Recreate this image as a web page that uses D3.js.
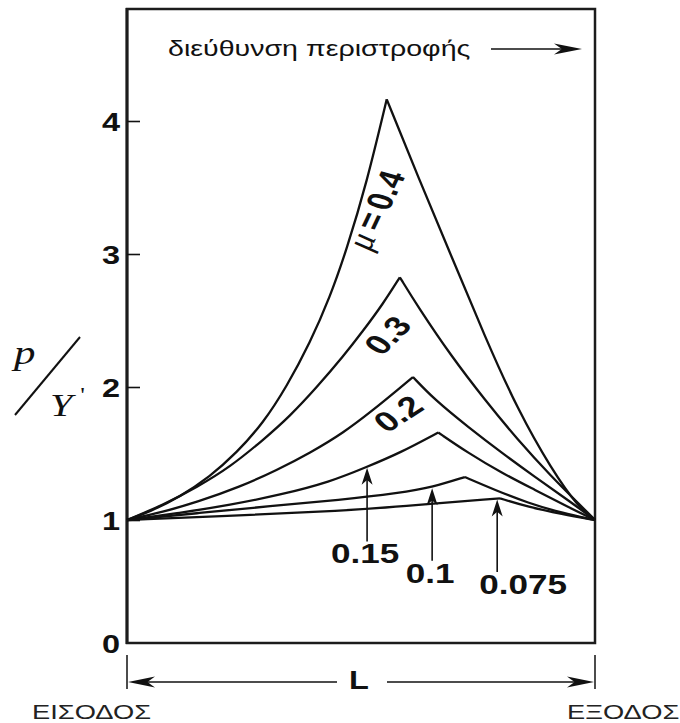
<!DOCTYPE html>
<html>
<head>
<meta charset="utf-8">
<script src="https://cdn.jsdelivr.net/npm/d3@7"></script>
<style>
  body { margin: 0; background: #fff; }
  svg { display: block; }
</style>
</head>
<body>
<svg id="chart" width="680" height="723"></svg>
<script>
// Friction hill: normalised roll pressure p/Y' along the arc of contact (x / L)
// for several friction coefficients μ. Each series: [x/L, p/Y'].
const frictionLabels = ["0.4", "0.3", "0.2", "0.15", "0.1", "0.075"];

const pressureMu040 = [[0, 1], [0.049, 1.062], [0.113, 1.175], [0.177, 1.326], [0.234, 1.504],
  [0.291, 1.729], [0.341, 2.002], [0.391, 2.331], [0.434, 2.679], [0.469, 3.030],
  [0.512, 3.532], [0.555, 4.163],
  [0.622, 3.579], [0.694, 2.977], [0.765, 2.376], [0.835, 1.827], [0.908, 1.376],
  [0.964, 1.098], [1, 1]];
const pressureMu030 = [[0, 1], [0.077, 1.113], [0.150, 1.248], [0.220, 1.398], [0.291, 1.602],
  [0.348, 1.780], [0.406, 2.000], [0.462, 2.230], [0.504, 2.420], [0.547, 2.625], [0.583, 2.825],
  [0.622, 2.602], [0.694, 2.226], [0.765, 1.902], [0.835, 1.602], [0.908, 1.323],
  [0.964, 1.128], [1, 1]];
const pressureMu020 = [[0, 1], [0.077, 1.060], [0.150, 1.135], [0.241, 1.248], [0.321, 1.376],
  [0.391, 1.504], [0.462, 1.654], [0.526, 1.827], [0.583, 1.992], [0.611, 2.075],
  [0.658, 1.902], [0.729, 1.699], [0.801, 1.504], [0.872, 1.323], [0.942, 1.150], [1, 1]];
const pressureMu015 = [[0, 1], [0.113, 1.053], [0.220, 1.113], [0.327, 1.188], [0.434, 1.286],
  [0.513, 1.400], [0.583, 1.504], [0.665, 1.658],
  [0.729, 1.504], [0.801, 1.353], [0.872, 1.226], [0.942, 1.098], [1, 1]];
const pressureMu010 = [[0, 1], [0.156, 1.053], [0.306, 1.105], [0.455, 1.150], [0.583, 1.203],
  [0.654, 1.248], [0.722, 1.323],
  [0.786, 1.226], [0.857, 1.128], [0.929, 1.053], [1, 1]];
const pressureMu0075 = [[0, 1], [0.263, 1.038], [0.455, 1.068], [0.583, 1.102], [0.797, 1.163],
  [0.857, 1.098], [0.929, 1.045], [1, 1]];

const seriesList = [pressureMu040, pressureMu030, pressureMu020, pressureMu015, pressureMu010, pressureMu0075];

// y-axis ticks
const yTickValues = [0, 1, 2, 3, 4];

// labels written along the curves (position in x/L and p/Y', angle in degrees)
const inlineLabels = [
  { mu: "0.4", x: 0.531, v: 3.33, angle: -70, prefix: true },
  { mu: "0.3", x: 0.556, v: 2.39, angle: -52 },
  { mu: "0.2", x: 0.579, v: 1.80, angle: -40 }
];
// labels pointing at curves with arrows: x/L of the arrow, label baseline level (p/Y')
const arrowLabels = [
  { mu: "0.15", x: 0.513, level: 0.647, dx: -2 },
  { mu: "0.1", x: 0.652, level: 0.489, dx: -2 },
  { mu: "0.075", x: 0.791, level: 0.398, dx: 26 }
];

const titleText = "διεύθυνση περιστροφής";
const entryText = "ΕΙΣΟΔΟΣ";
const exitText = "ΕΞΟΔΟΣ";
const lengthText = "L";

// ---------------------------------------------------------------------------
const svg = d3.select("#chart");
const ink = "#111";
const sans = "'Liberation Sans', Arial, sans-serif";
const serif = "'Liberation Serif', 'Times New Roman', serif";
const stretch = 1.3;

const plot = { left: 127, right: 595, top: 9, bottom: 643 };
const x = d3.scaleLinear().domain([0, 1]).range([plot.left, plot.right]);
const y = d3.scaleLinear().domain([0, 1, 4]).range([plot.bottom, 520, 121]);

function placeText(sel, px, py, angle) {
  sel.attr("transform", `translate(${px},${py}) scale(${stretch},1)` + (angle ? ` rotate(${angle})` : ""));
  return sel;
}

function arrowHead(g, tx, ty, dir, len, half) {
  // notched arrowhead, tip at (tx,ty), pointing along dir (degrees)
  g.append("path")
    .attr("d", `M0,0 L${-len},${-half} L${-len * 0.72},0 L${-len},${half} Z`)
    .attr("transform", `translate(${tx},${ty}) rotate(${dir})`)
    .attr("fill", ink);
}

// frame
svg.append("rect")
  .attr("x", plot.left).attr("y", plot.top)
  .attr("width", plot.right - plot.left).attr("height", plot.bottom - plot.top)
  .attr("fill", "none").attr("stroke", "#1c1c1c").attr("stroke-width", 2.5);
svg.append("line")
  .attr("x1", plot.left).attr("x2", plot.left)
  .attr("y1", plot.top - 1).attr("y2", plot.bottom + 1)
  .attr("stroke", "#1c1c1c").attr("stroke-width", 3);

// y axis with inward ticks
const yAxis = d3.axisLeft(y)
  .tickValues(yTickValues)
  .tickSizeInner(-13).tickSizeOuter(0).tickPadding(7)
  .tickFormat(d3.format("d"));
const gy = svg.append("g").attr("transform", `translate(${plot.left},0)`).call(yAxis);
gy.select(".domain").remove();
gy.selectAll(".tick line").attr("stroke", ink).attr("stroke-width", 1.6)
  .filter(d => d === 0).remove();
gy.selectAll(".tick text")
  .attr("x", null).attr("dy", null)
  .attr("transform", `translate(-7,9) scale(${stretch},1)`)
  .attr("font-size", 25).attr("font-weight", "bold")
  .attr("font-family", sans).attr("fill", ink);

// curves: rising and falling branches drawn separately so the peak stays sharp
const line = d3.line().x(d => x(d[0])).y(d => y(d[1])).curve(d3.curveBasis);
const gc = svg.append("g").attr("fill", "none").attr("stroke", ink).attr("stroke-width", 2.3)
  .attr("stroke-linejoin", "miter");
seriesList.forEach(data => {
  const peak = d3.maxIndex(data, d => d[1]);
  gc.append("path").attr("d", line(data.slice(0, peak + 1)));
  gc.append("path").attr("d", line(data.slice(peak)));
});

// labels along curves
inlineLabels.forEach(l => {
  const t = svg.append("text")
    .attr("text-anchor", "middle").attr("dy", "0.36em")
    .attr("font-size", 28).attr("font-weight", "bold")
    .attr("font-family", sans).attr("fill", ink);
  if (l.prefix) {
    t.append("tspan").attr("font-family", serif).attr("font-style", "italic")
      .attr("font-weight", "normal").attr("font-size", 30).text("μ");
    t.append("tspan").attr("dx", 6).text("=");
    t.append("tspan").attr("dx", 5).text(l.mu);
  } else {
    t.text(l.mu);
  }
  placeText(t, x(l.x), y(l.v), l.angle);
});

// arrow labels
function valueAt(data, xv) {
  for (let i = 1; i < data.length; i++) {
    if (xv <= data[i][0]) {
      const a = data[i - 1], b = data[i];
      return a[1] + (b[1] - a[1]) * (xv - a[0]) / (b[0] - a[0]);
    }
  }
  return data[data.length - 1][1];
}
const ga = svg.append("g");
arrowLabels.forEach(l => {
  const data = seriesList[frictionLabels.indexOf(l.mu)];
  const px = x(l.x);
  const tipY = y(valueAt(data, l.x));
  const baseY = y(l.level);
  ga.append("line")
    .attr("x1", px).attr("x2", px)
    .attr("y1", baseY - 22).attr("y2", tipY + 8)
    .attr("stroke", ink).attr("stroke-width", 1.6);
  arrowHead(ga, px, tipY + 1, -90, 17, 5.5);
  placeText(ga.append("text")
    .attr("text-anchor", "middle")
    .attr("font-size", 27).attr("font-weight", "bold")
    .attr("font-family", sans).attr("fill", ink)
    .text(l.mu), px + l.dx, baseY);
});

// direction of rotation
placeText(svg.append("text")
  .attr("font-size", 22).attr("font-family", sans).attr("fill", ink)
  .text(titleText), 168, 56);
svg.append("line").attr("x1", 491).attr("x2", 570).attr("y1", 49).attr("y2", 49)
  .attr("stroke", ink).attr("stroke-width", 1.5);
arrowHead(svg, 582, 49, 0, 28, 5.5);

// y-axis label p / Y'
placeText(svg.append("text")
  .attr("font-size", 33).attr("font-family", serif).attr("font-style", "italic")
  .attr("fill", ink).text("p"), 14, 364);
svg.append("line").attr("x1", 15).attr("y1", 415).attr("x2", 80).attr("y2", 337)
  .attr("stroke", ink).attr("stroke-width", 2);
const yl = svg.append("text")
  .attr("font-size", 31).attr("font-family", serif).attr("font-style", "italic")
  .attr("fill", ink);
yl.append("tspan").text("Y");
yl.append("tspan").attr("dx", 6).attr("dy", -14).attr("font-size", 20).attr("font-style", "normal").text("'");
placeText(yl, 50, 416);

// length of contact L
const dimY = 682;
[plot.left, plot.right].forEach(px => {
  svg.append("line").attr("x1", px).attr("x2", px).attr("y1", 655).attr("y2", 689)
    .attr("stroke", ink).attr("stroke-width", 1.5);
});
svg.append("line").attr("x1", plot.left + 10).attr("x2", 337).attr("y1", dimY).attr("y2", dimY)
  .attr("stroke", ink).attr("stroke-width", 1.5);
svg.append("line").attr("x1", 387).attr("x2", plot.right - 10).attr("y1", dimY).attr("y2", dimY)
  .attr("stroke", ink).attr("stroke-width", 1.5);
arrowHead(svg, plot.left + 1, dimY, 180, 27, 5.5);
arrowHead(svg, plot.right - 1, dimY, 0, 27, 5.5);
placeText(svg.append("text")
  .attr("text-anchor", "middle").attr("font-size", 25).attr("font-weight", "bold")
  .attr("font-family", sans).attr("fill", ink).text(lengthText), 359, 689);

// entry / exit
placeText(svg.append("text")
  .attr("font-size", 21).attr("font-family", sans).attr("fill", "#222")
  .text(entryText), 32, 719);
placeText(svg.append("text")
  .attr("font-size", 21).attr("font-family", sans).attr("fill", "#222")
  .text(exitText), 567, 719);
</script>
</body>
</html>
